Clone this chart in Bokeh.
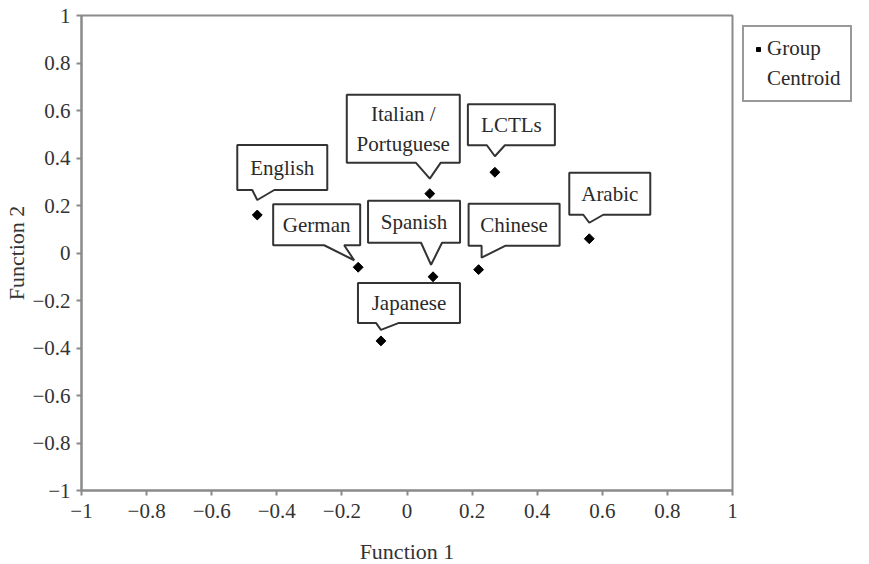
import math
from bokeh.plotting import figure
from bokeh.models import FixedTicker, Legend, LegendItem
from bokeh.embed import file_html
from bokeh.resources import INLINE
from bokeh.core.properties import value

# ---- data ----
groups = ["English", "German", "Italian /\nPortuguese", "Spanish", "Japanese",
          "LCTLs", "Chinese", "Arabic"]
function1 = [-0.46, -0.15, 0.07, 0.08, -0.08, 0.27, 0.22, 0.56]
function2 = [0.16, -0.06, 0.25, -0.10, -0.37, 0.34, -0.07, 0.06]
tick_values = [-1, -0.8, -0.6, -0.4, -0.2, 0, 0.2, 0.4, 0.6, 0.8, 1]
tick_labels = ["\u22121", "\u22120.8", "\u22120.6", "\u22120.4", "\u22120.2", "0",
               "0.2", "0.4", "0.6", "0.8", "1"]
legend_lines = ["Group", "Centroid"]

# ---- callout geometry (screen-pixel offsets from each point; down = +) ----
box_left = [-20, -85, -83, -65, -23, -27, -10, -20]
box_right = [70, 2, 30, 27, 79, 60, 81, 61]
box_top = [-70, -63, -99, -76, -58, -68, -66, -66]
box_bottom = [-25, -22, -31, -34, -18, -27, -24, -24]
ptr_a = [-5, -34, -14, -12, -5, -8, 3, -6]
ptr_b = [17, -14, 11, 9, 18, 10, 27, 14]
tip_dx = [0, -4, 0, -2, 0, 0, 3, 0]
tip_dy = [-15, -7, -15, -12, -11, -16, -12, -16]

FONT = "Liberation Serif"
FW, FH = 651, 475
X0, X1, Y0, Y1 = -1, 1, -1, 1
sx = FW / (X1 - X0)
sy = FH / (Y1 - Y0)

p = figure(width=861, height=556, frame_width=FW, frame_height=FH,
           x_range=(X0, X1), y_range=(Y0, Y1),
           output_backend="svg", toolbar_location=None,
           min_border_left=81, min_border_top=15, min_border_right=129,
           min_border_bottom=10)
p.grid.visible = False
p.outline_line_color = "#8a8a8a"
p.outline_line_width = 2
p.background_fill_color = "white"
p.border_fill_color = "white"

for ax in (p.xaxis[0], p.yaxis[0]):
    ax.ticker = FixedTicker(ticks=tick_values)
    ax.major_label_overrides = {v: l for v, l in zip(tick_values, tick_labels)}
    ax.minor_tick_line_color = None
    ax.axis_line_color = "#8a8a8a"
    ax.axis_line_width = 2
    ax.major_tick_line_color = "#8a8a8a"
    ax.major_tick_line_width = 2
    ax.major_tick_in = 0
    ax.major_tick_out = 5
    ax.major_label_text_font = FONT
    ax.major_label_text_font_size = "21px"
    ax.major_label_text_color = "#333333"
    ax.axis_label_text_font = FONT
    ax.axis_label_text_font_size = "22px"
    ax.axis_label_text_font_style = "normal"
    ax.axis_label_text_color = "#333333"

p.xaxis.major_label_standoff = 8
p.yaxis.major_label_standoff = 6
p.xaxis.axis_label = "Function 1"
p.yaxis.axis_label = "Function 2"
p.xaxis.axis_label_standoff = 18
p.yaxis.axis_label_standoff = 0

# callouts
xs, ys, tx, ty = [], [], [], []
for i in range(len(groups)):
    px, py = function1[i], function2[i]
    def cv(dx, dy):
        return px + dx / sx, py - dy / sy
    pts = [(box_left[i], box_top[i]), (box_right[i], box_top[i]),
           (box_right[i], box_bottom[i]), (ptr_b[i], box_bottom[i]),
           (tip_dx[i], tip_dy[i]), (ptr_a[i], box_bottom[i]),
           (box_left[i], box_bottom[i])]
    conv = [cv(a, b) for a, b in pts]
    xs.append([c[0] for c in conv])
    ys.append([c[1] for c in conv])
    cx, cy = cv((box_left[i] + box_right[i]) / 2, (box_top[i] + box_bottom[i]) / 2)
    tx.append(cx)
    ty.append(cy)

p.patches(xs, ys, fill_color="white", line_color="#333333", line_width=2)
p.text(tx, ty, text=groups, text_font=value(FONT), text_font_size="21px",
       text_align="center", text_baseline="middle", text_color="#2a2a2a",
       text_line_height=1.25)

r = p.scatter(function1, function2, marker="square", angle=math.pi / 4, size=7,
              color="black")
# invisible renderer so the second legend line has no marker
r_blank = p.scatter([], [], marker="square", size=7, fill_alpha=0, line_alpha=0)

legend = Legend(items=[LegendItem(label=legend_lines[0], renderers=[r]),
                       LegendItem(label=legend_lines[1], renderers=[r_blank])],
                location="top_left")
legend.label_text_font = FONT
legend.label_text_font_size = "21px"
legend.label_text_color = "#2a2a2a"
legend.label_height = 22
legend.glyph_height = 22
legend.spacing = 5
legend.border_line_color = "#333333"
legend.border_line_width = 2
legend.margin = 10
legend.padding = 9
legend.glyph_width = 10
legend.label_standoff = 4
p.add_layout(legend, "right")

open("out.html", "w").write(file_html(p, INLINE))
